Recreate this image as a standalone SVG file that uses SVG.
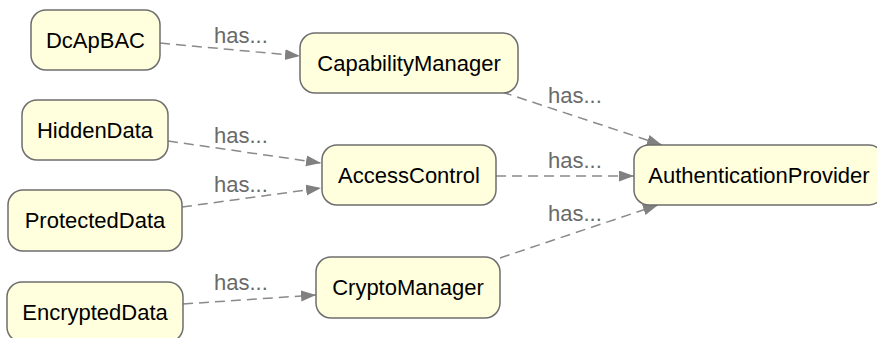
<svg xmlns="http://www.w3.org/2000/svg" width="877" height="338" viewBox="0 0 877 338">
<style>
.node rect{fill:#ffffde;stroke:#6e6e6e;stroke-width:1.5}
.node text{font-family:"Liberation Sans",Arial,sans-serif;font-size:22px;fill:#000;text-anchor:middle}
.edge{fill:none;stroke:#8a8a8a;stroke-width:1.5;stroke-dasharray:10 6}
.lbl{font-family:"Liberation Sans",Arial,sans-serif;font-size:22px;fill:#6a6a6a}
</style>
<defs>
<marker id="arr" markerUnits="userSpaceOnUse" markerWidth="16" markerHeight="12" refX="15" refY="5.5" orient="auto">
<path d="M0,0 L15,5.5 L0,11 z" fill="#808080"/>
</marker>
</defs>
<rect width="877" height="338" fill="#fff"/>
<g id="connectors">
<path class="edge" d="M160,43 L300,56" marker-end="url(#arr)"/>
<text class="lbl" x="214" y="43">has...</text>
<path class="edge" d="M168,141 L321,163" marker-end="url(#arr)"/>
<text class="lbl" x="214" y="143">has...</text>
<path class="edge" d="M182,207 L321,188" marker-end="url(#arr)"/>
<text class="lbl" x="214" y="192">has...</text>
<path class="edge" d="M183,304 L316,295" marker-end="url(#arr)"/>
<text class="lbl" x="214" y="290">has...</text>
<path class="edge" d="M502,92 L662,145" marker-end="url(#arr)"/>
<text class="lbl" x="548" y="103">has...</text>
<path class="edge" d="M496,176 L634,176" marker-end="url(#arr)"/>
<text class="lbl" x="548" y="168">has...</text>
<path class="edge" d="M500,258 L658,205" marker-end="url(#arr)"/>
<text class="lbl" x="548" y="221">has...</text>
</g>
<g id="DcApBAC" class="node"><rect x="31" y="10" width="129" height="60" rx="15"/><text x="95.5" y="47.5">DcApBAC</text></g>
<g id="CapabilityManager" class="node"><rect x="300" y="33" width="218" height="60" rx="15"/><text x="409" y="70.5">CapabilityManager</text></g>
<g id="HiddenData" class="node"><rect x="22" y="100" width="146" height="60" rx="15"/><text x="95" y="137.5">HiddenData</text></g>
<g id="ProtectedData" class="node"><rect x="8" y="190" width="174" height="61" rx="15"/><text x="95" y="228">ProtectedData</text></g>
<g id="AccessControl" class="node"><rect x="322" y="145" width="174" height="60" rx="15"/><text x="409" y="182.5">AccessControl</text></g>
<g id="EncryptedData" class="node"><rect x="7" y="282" width="176" height="60" rx="15"/><text x="95" y="319.5">EncryptedData</text></g>
<g id="CryptoManager" class="node"><rect x="316" y="257" width="184" height="61" rx="15"/><text x="408" y="295">CryptoManager</text></g>
<g id="AuthenticationProvider" class="node"><rect x="634" y="145" width="250" height="60" rx="15"/><text x="759" y="182.5">AuthenticationProvider</text></g>
</svg>
